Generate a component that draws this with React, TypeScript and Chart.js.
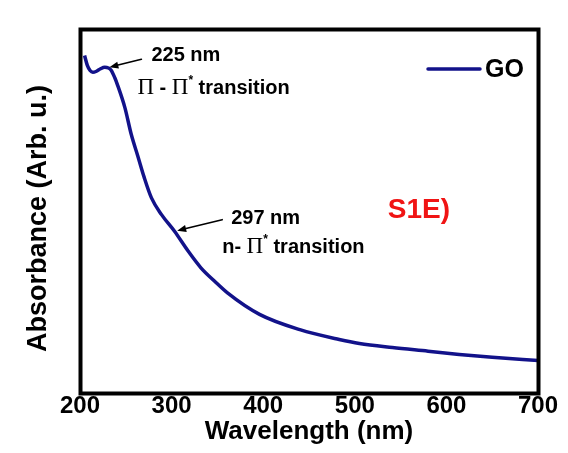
import { useEffect, useRef } from "react";
import { Chart, registerables } from "chart.js";

Chart.register(...registerables);

// ---- data ----
const wavelengths = [205, 208, 211, 214, 218, 222, 227, 231, 234, 238, 241, 249, 256, 263, 270, 278, 289, 303, 318, 332, 347, 361, 396, 440, 483, 505, 541, 580, 614, 650, 700];
const absorbance = [0.927, 0.9, 0.886, 0.881, 0.884, 0.89, 0.895, 0.893, 0.887, 0.866, 0.846, 0.784, 0.71, 0.652, 0.593, 0.536, 0.49, 0.445, 0.39, 0.344, 0.307, 0.275, 0.216, 0.174, 0.147, 0.136, 0.125, 0.115, 0.106, 0.098, 0.089];
const xTicks = [200, 300, 400, 500, 600, 700];
const seriesLabel = "GO";
const xTitle = "Wavelength (nm)";
const yTitle = "Absorbance (Arb. u.)";

// annotations: arrow tips on the curve (data coordinates)
const peakNames = ["225 nm", "297 nm"];
const peakTipX = [231, 305];
const peakTipY = [0.895, 0.446];
const transitionPrefix = ["", "n- "];
const panelLabel = "S1E)";
const panelLabelX = 536;
const panelLabelY = 0.482;

const LINE_COLOR = "#12128a";
const SANS = '"Liberation Sans", Arial, sans-serif';
const SERIF = '"Liberation Serif", "Times New Roman", serif';

type Run = { t: string; font: string; dy?: number };

function drawRuns(ctx: CanvasRenderingContext2D, runs: Run[], x: number, y: number) {
  let cx = x;
  for (const r of runs) {
    ctx.font = r.font;
    ctx.fillText(r.t, cx, y + (r.dy || 0));
    cx += ctx.measureText(r.t).width;
  }
}

function drawArrow(ctx: CanvasRenderingContext2D, x0: number, y0: number, x1: number, y1: number) {
  const ang = Math.atan2(y1 - y0, x1 - x0);
  const head = 9;
  const hw = 3.5;
  const bx = x1 - head * Math.cos(ang);
  const by = y1 - head * Math.sin(ang);
  ctx.beginPath();
  ctx.moveTo(x0, y0);
  ctx.lineTo(bx, by);
  ctx.lineWidth = 1.6;
  ctx.strokeStyle = "#000";
  ctx.stroke();
  ctx.beginPath();
  ctx.moveTo(x1, y1);
  ctx.lineTo(bx + hw * Math.sin(ang), by - hw * Math.cos(ang));
  ctx.lineTo(bx - hw * Math.sin(ang), by + hw * Math.cos(ang));
  ctx.closePath();
  ctx.fillStyle = "#000";
  ctx.fill();
}

const framePlugin = {
  id: "frameAndNotes",
  afterDatasetsDraw(chart: any) {
    const { ctx, chartArea: a, scales } = chart;
    const xs = scales.x;
    const ys = scales.y;
    ctx.save();
    // frame
    ctx.strokeStyle = "#000";
    ctx.lineWidth = 4;
    ctx.strokeRect(a.left + 0.5, a.top + 0.5, a.right - a.left, a.bottom - a.top);

    // legend
    const ds = chart.data.datasets[0];
    const ly = a.top + 40;
    ctx.beginPath();
    ctx.moveTo(a.right - 110, ly);
    ctx.lineTo(a.right - 58, ly);
    ctx.lineWidth = 3.5;
    ctx.lineCap = "round";
    ctx.strokeStyle = ds.borderColor;
    ctx.stroke();
    ctx.fillStyle = "#000";
    ctx.textBaseline = "alphabetic";
    ctx.textAlign = "left";
    ctx.font = `bold 25px ${SANS}`;
    ctx.fillText(ds.label, a.right - 53, ly + 8);

    // peak annotations
    const tails = [[33, -8], [46, -11]];
    const nameOff = [[43, -6], [55, -7]];
    const transOff = [[29, 27], [46, 22]];
    const bold = `bold 20px ${SANS}`;
    const pi = `23px ${SERIF}`;
    const sup = `bold 12px ${SANS}`;
    for (let i = 0; i < peakNames.length; i++) {
      const tx = xs.getPixelForValue(peakTipX[i]);
      const ty = ys.getPixelForValue(peakTipY[i]);
      drawArrow(ctx, tx + tails[i][0], ty + tails[i][1], tx + 1, ty);
      ctx.fillStyle = "#000";
      ctx.font = bold;
      ctx.fillText(peakNames[i], tx + nameOff[i][0], ty + nameOff[i][1]);
      const runs: Run[] = [];
      if (transitionPrefix[i]) {
        runs.push({ t: transitionPrefix[i], font: bold });
      } else {
        runs.push({ t: "\u03A0", font: pi });
        runs.push({ t: " - ", font: bold });
      }
      runs.push({ t: "\u03A0", font: pi });
      runs.push({ t: "*", font: sup, dy: -10 });
      runs.push({ t: " transition", font: bold });
      drawRuns(ctx, runs, tx + transOff[i][0], ty + transOff[i][1]);
    }

    // panel label
    ctx.fillStyle = "#f01414";
    ctx.font = `bold 28px ${SANS}`;
    ctx.fillText(panelLabel, xs.getPixelForValue(panelLabelX), ys.getPixelForValue(panelLabelY));
    ctx.restore();
  },
};

export default function App() {
  const ref = useRef<HTMLCanvasElement>(null);
  useEffect(() => {
    if (!ref.current) return;
    const chart = new Chart(ref.current, {
      type: "line",
      data: {
        datasets: [
          {
            label: seriesLabel,
            data: wavelengths.map((w, i) => ({ x: w, y: absorbance[i] })),
            borderColor: LINE_COLOR,
            backgroundColor: LINE_COLOR,
            borderWidth: 3.5,
            pointRadius: 0,
            cubicInterpolationMode: "monotone",
            fill: false,
          },
        ],
      },
      options: {
        responsive: false,
        animation: false,
        layout: { padding: { left: 0, top: 29, right: 30, bottom: 0 } },
        plugins: { legend: { display: false }, tooltip: { enabled: false } },
        scales: {
          x: {
            type: "linear",
            min: 200,
            max: 700,
            afterBuildTicks: (s: any) => {
              s.ticks = xTicks.map((v) => ({ value: v }));
            },
            afterFit: (s: any) => {
              s.height = 60;
            },
            grid: { display: false, drawTicks: false },
            border: { display: false },
            ticks: {
              color: "#000",
              padding: 1,
              maxRotation: 0,
              font: { family: SANS, size: 24, weight: "bold", lineHeight: 1 },
            },
            title: {
              display: true,
              text: xTitle,
              color: "#000",
              padding: { top: 0, bottom: 6 },
              font: { family: SANS, size: 26, weight: "bold", lineHeight: 1.2 },
            },
          },
          y: {
            min: 0,
            max: 1,
            afterFit: (s: any) => {
              s.width = 80;
            },
            grid: { display: false, drawTicks: false },
            border: { display: false },
            ticks: { display: false },
            title: {
              display: true,
              text: yTitle + "\u00A0\u00A0",
              color: "#000",
              padding: { top: 22, bottom: 0 },
              font: { family: SANS, size: 27, weight: "bold", lineHeight: 1.2 },
            },
          },
        },
      } as any,
      plugins: [framePlugin],
    });
    return () => chart.destroy();
  }, []);
  return (
    <div style={{ position: "absolute", left: 0, top: 0, width: 568, height: 453, background: "#fff" }}>
      <canvas ref={ref} width={568} height={453} />
    </div>
  );
}
